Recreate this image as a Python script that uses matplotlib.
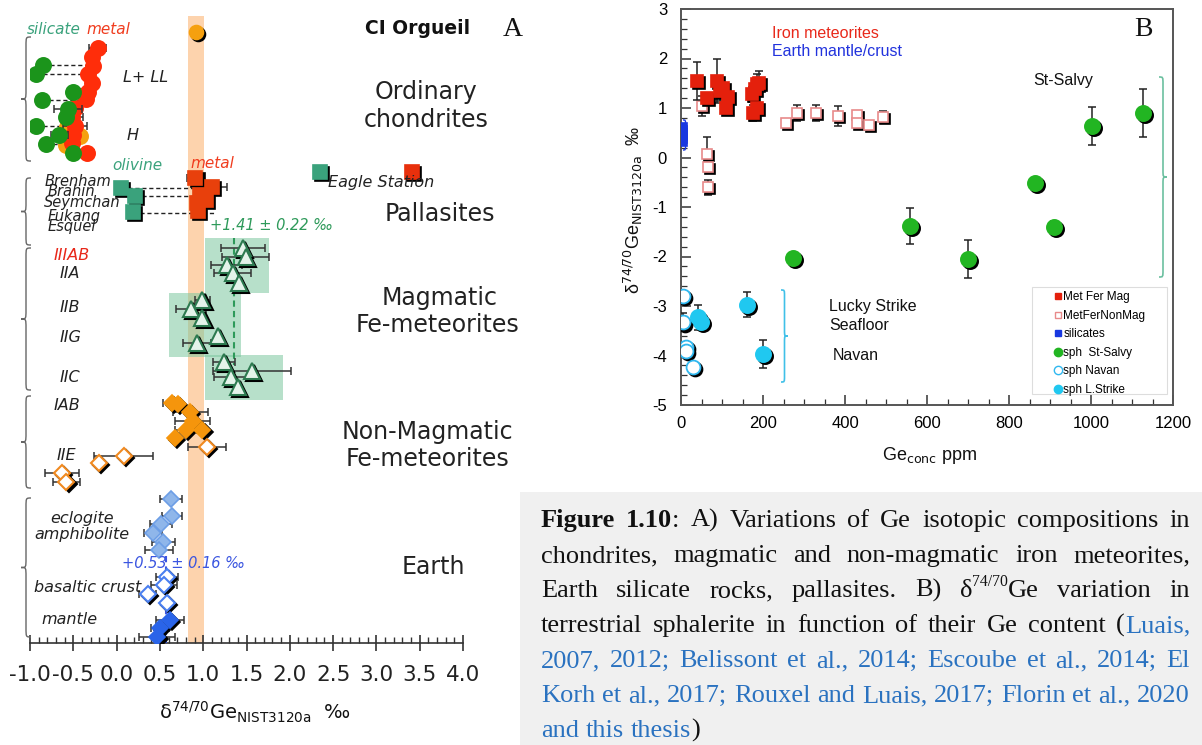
import numpy as np
import matplotlib
matplotlib.use("Agg")
import matplotlib.pyplot as plt
import matplotlib.transforms as mtransforms
from matplotlib.path import Path
from matplotlib.patches import PathPatch, Rectangle
from matplotlib.lines import Line2D
from matplotlib.ticker import MultipleLocator

plt.rcParams['axes.unicode_minus'] = False
plt.rcParams['mathtext.fontset'] = 'dejavusans'
plt.rcParams['font.family'] = ['DejaVu Sans']

# ================= Panel A data (x = delta74/70Ge, row = vertical slot) =================
ci_x = [0.92]; ci_row = [32]

oc_metal_x = [-0.22, -0.28, -0.27, -0.33, -0.28, -0.33, -0.35, -0.48, -0.51, -0.48, -0.50, -0.51, -0.34]
oc_metal_row = [48, 57, 66, 74, 83, 92, 99, 108, 117, 126, 135, 143, 153]
oc_metal_err = [0.10, 0, 0, 0, 0, 0.08, 0, 0, 0.12, 0.14, 0, 0, 0.08]
oc_bulk_x = [-0.57, -0.42, -0.59]
oc_bulk_row = [127, 136, 145]
oc_sil_x = [-0.85, -0.93, -0.50, -0.86, -0.56, -0.58, -0.93, -0.66, -0.82, -0.50]
oc_sil_row = [65, 74, 92, 100, 109, 117, 126, 135, 144, 153]
oc_sil_err = [0, 0, 0, 0, 0.16, 0, 0, 0.1, 0, 0]
oc_tie_row = [65, 74, 92, 100, 126, 144, 153]
oc_tie_from = [-0.85, -0.93, -0.50, -0.86, -0.93, -0.82, -0.50]
oc_tie_to = [-0.28, -0.33, -0.33, -0.35, -0.50, -0.51, -0.34]

pal_ol_x = [0.05, 0.21, 0.19]
pal_ol_row = [188, 196, 212]
pal_met_x = [0.91, 1.10, 0.96, 1.03, 0.93, 0.94]
pal_met_row = [178, 187, 195, 200, 203, 211]
pal_met_err = [0.10, 0.18, 0, 0.05, 0, 0]
pal_tie_row = [188, 196, 213]
pal_tie_from = [0.05, 0.21, 0.19]
pal_tie_to = [0.93, 0.98, 1.14]
eagle_ol_x = [2.35]; eagle_met_x = [3.41]; eagle_row = [172]; eagle_met_err = [0.06]

mag_x = [1.46, 1.49, 1.27, 1.34, 1.41, 0.99, 0.86, 0.99, 1.17, 0.93, 1.24, 1.56, 1.32, 1.40]
mag_row = [248, 257, 265, 273, 283, 300, 309, 318, 336, 343, 362, 371, 377, 387]
mag_err = [0.25, 0.27, 0.18, 0.21, 0, 0.09, 0.17, 0, 0, 0.16, 0.13, 0.45, 0.20, 0]
mag_mean = 1.35
mag_boxes = [(1.02, 1.76, 238, 293), (0.61, 1.44, 293, 357), (1.02, 1.92, 355, 400)]

iab_x = [0.64, 0.71, 0.85, 0.88, 0.80, 0.99, 0.67]
iab_row = [403, 404, 412, 421, 430, 430, 438]
iab_err = [0.10, 0, 0.20, 0.20, 0.13, 0, 0]
iie_x = [1.04, 0.08, -0.20, -0.63, -0.58]
iie_row = [447, 456, 463, 473, 482]
iie_err = [0.22, 0.34, 0, 0.20, 0.16]

ecl_x = [0.63, 0.64, 0.51, 0.42, 0.54, 0.49]
ecl_row = [499, 516, 524, 533, 542, 550]
ecl_err = [0.13, 0.12, 0.13, 0.10, 0.13, 0.16]
bas_x = [0.58, 0.55, 0.36, 0.58]
bas_row = [577, 585, 594, 603]
bas_err = [0.13, 0.15, 0.10, 0]
man_x = [0.62, 0.50, 0.47]
man_row = [620, 628, 637]
man_err = [0.16, 0.10, 0.21]
earth_mean = 0.57

chondrite_band = (0.83, 1.01)

# ================= Panel B data (Ge ppm, delta74/70Ge) =================
mag_ppm = [39, 63, 88, 95, 102, 115, 110, 176, 173, 181, 185, 185, 190]
mag_d = [1.55, 1.20, 1.55, 1.35, 1.40, 1.22, 1.00, 0.90, 1.28, 1.38, 1.48, 1.00, 1.50]
mag_de = [0.38, 0, 0.45, 0.2, 0, 0.12, 0, 0.17, 0.15, 0, 0.2, 0, 0.25]
nonmag_ppm = [51, 63, 66, 66, 256, 283, 329, 383, 429, 429, 458, 493]
nonmag_d = [1.04, 0.07, -0.19, -0.60, 0.70, 0.90, 0.90, 0.84, 0.86, 0.70, 0.66, 0.82]
nonmag_de = [0.21, 0.34, 0, 0.15, 0.05, 0.16, 0.16, 0.2, 0, 0, 0.06, 0.12]
sil_ppm = [4, 4, 4, 4, 4, 4]
sil_d = [0.62, 0.56, 0.50, 0.44, 0.38, 0.32]
salvy_ppm = [273, 558, 700, 863, 910, 1002, 1127]
salvy_d = [-2.03, -1.38, -2.05, -0.52, -1.40, 0.64, 0.90]
salvy_de = [0.10, 0.36, 0.38, 0.10, 0.12, 0.38, 0.48]
navan_ppm = [5, 5, 12, 12, 29]
navan_d = [-2.80, -3.33, -3.83, -3.91, -4.23]
navan_de = [0, 0.18, 0, 0.12, 0]
ls_ppm = [42, 49, 160, 200]
ls_d = [-3.23, -3.32, -2.97, -3.97]
ls_de = [0.25, 0.15, 0.26, 0.29]

legend_labels = ['Met Fer Mag', 'MetFerNonMag', 'silicates', 'sph  St-Salvy', 'sph Navan', 'sph L.Strike']

caption = [
    [("Figure 1.10", "bold"), (": A) Variations of Ge isotopic compositions in", "normal")],
    [("chondrites, magmatic and non-magmatic iron meteorites,", "normal")],
    [("Earth silicate rocks, pallasites. B) δ", "normal"), ("74/70", "sup"), ("Ge variation in", "normal")],
    [("terrestrial sphalerite in function of their Ge content (", "normal"), ("Luais,", "link")],
    [("2007, 2012; Belissont et al., 2014; Escoube et al., 2014; El", "link")],
    [("Korh et al., 2017; Rouxel and Luais, 2017; Florin et al., 2020", "link")],
    [("and this thesis", "link"), (")", "normal")],
]

# ================= figure =================
W, H = 1202, 745
fig = plt.figure(figsize=(W / 100, H / 100), dpi=100)
PIX = mtransforms.Affine2D().scale(1 / W, -1 / H).translate(0, 1) + fig.transFigure


def ptext(x, y, s, **kw):
    kw.setdefault('ha', 'center')
    kw.setdefault('va', 'center')
    return fig.text(x, y, s, transform=PIX, **kw)


def shadow(ax, d=2.2):
    return ax.transData + mtransforms.ScaledTranslation(d / 100, -d / 100, fig.dpi_scale_trans)


def pts(ax, x, y, marker, ms, fc, ec, err=None, horizontal=True, shade=True, z=4, mew=1.2,
        ecol='#333333', cap=3):
    x = np.asarray(x, float); y = np.asarray(y, float)
    if err is not None:
        e = np.asarray(err, float); m = e > 0
        if m.any():
            if horizontal:
                ax.errorbar(x[m], y[m], xerr=e[m], fmt='none', ecolor=ecol, elinewidth=1.1,
                            capsize=cap, capthick=1.1, zorder=z - 0.5)
            else:
                ax.errorbar(x[m], y[m], yerr=e[m], fmt='none', ecolor=ecol, elinewidth=1.1,
                            capsize=cap, capthick=1.1, zorder=z - 0.5)
    if shade:
        ax.plot(x, y, ls='none', marker=marker, ms=ms, mfc='black', mec='black', mew=mew,
                transform=shadow(ax), zorder=z)
    ax.plot(x, y, ls='none', marker=marker, ms=ms, mfc=fc, mec=ec, mew=mew, zorder=z + 0.1)


def brace(x, y0, y1, w, color, lw=1.0, side='left', r=None):
    # x: tip x; w: depth; pixel coords
    s = 1 if side == 'left' else -1
    xt = x; xm = x + s * w * 0.5; xe = x + s * w
    ym = (y0 + y1) / 2
    if r is None:
        r = min(w * 0.9, (y1 - y0) / 6)
    verts = [(xe, y0), (xm, y0), (xm, y0), (xm, y0 + r),
             (xm, ym - r), (xm, ym), (xm, ym), (xt, ym),
             (xm, ym), (xm, ym), (xm, ym + r),
             (xm, y1 - r), (xm, y1), (xm, y1), (xe, y1)]
    codes = [Path.MOVETO, Path.CURVE4, Path.CURVE4, Path.CURVE4,
             Path.LINETO, Path.CURVE4, Path.CURVE4, Path.CURVE4,
             Path.CURVE4, Path.CURVE4, Path.CURVE4,
             Path.LINETO, Path.CURVE4, Path.CURVE4, Path.CURVE4]
    fig.add_artist(PathPatch(Path(verts, codes), fc='none', ec=color, lw=lw, transform=PIX))


# ---------------- Panel A ----------------
axA = fig.add_axes([30 / W, 1 - 643 / H, 433 / W, (643 - 10) / H])
axA.set_xlim(-1.0, 4.0)
axA.set_ylim(643, 10)
for sp in ['left', 'right', 'top']:
    axA.spines[sp].set_visible(False)
axA.spines['bottom'].set_color('#333333')
axA.spines['bottom'].set_linewidth(1.2)
axA.set_yticks([])
axA.xaxis.set_major_locator(MultipleLocator(0.5))
axA.xaxis.set_minor_locator(MultipleLocator(0.1))
axA.tick_params(axis='x', which='major', direction='inout', length=12, width=1.2, color='#333333',
                labelsize=15.5, pad=10, labelcolor='#222222')
axA.tick_params(axis='x', which='minor', direction='in', length=4, width=1.0, color='#333333')
axA.xaxis.set_major_formatter(matplotlib.ticker.FormatStrFormatter('%.1f'))

axA.axvspan(chondrite_band[0], chondrite_band[1], ymin=0, ymax=(643 - 16) / (643 - 10),
            color='#fdd3ad', zorder=1, lw=0)
for (xa, xb, ra, rb) in mag_boxes:
    axA.add_patch(Rectangle((xa, ra), xb - xa, rb - ra, fc='#7cc8a0', alpha=0.55, lw=0, zorder=2))
axA.plot([mag_mean, mag_mean], [238, 365], ls=(0, (3, 2)), color='#2e9a5a', lw=1.5, zorder=3)
axA.plot([earth_mean, earth_mean], [556, 643], ls=(0, (3, 2)), color='#3a55e0', lw=1.5, zorder=3)

# tie lines
for r, a, b in zip(oc_tie_row, oc_tie_from, oc_tie_to):
    axA.plot([a, b], [r, r], ls=(0, (3, 2)), color='#222222', lw=1.0, zorder=3)
for r, a, b in zip(pal_tie_row, pal_tie_from, pal_tie_to):
    axA.plot([a, b], [r, r], ls=(0, (3, 2)), color='#222222', lw=1.0, zorder=3)

pts(axA, ci_x, ci_row, 'o', 10, '#f5a00f', '#f5a00f', z=5)
pts(axA, oc_bulk_x, oc_bulk_row, 'o', 11, '#f5a00f', '#f5a00f', shade=False, z=4)
pts(axA, oc_metal_x, oc_metal_row, 'o', 11, '#ff2d0a', '#ff2d0a', err=oc_metal_err, shade=False, z=5)
pts(axA, oc_sil_x, oc_sil_row, 'o', 11, '#1b941b', '#1b941b', err=oc_sil_err, shade=False, z=6)

pts(axA, pal_ol_x, pal_ol_row, 's', 10, '#3aa27c', '#3aa27c', z=5)
pts(axA, pal_met_x, pal_met_row, 's', 10, '#e8400c', '#e8400c', err=pal_met_err, z=5)
pts(axA, eagle_ol_x, eagle_row, 's', 10, '#3aa27c', '#3aa27c', z=5)
pts(axA, eagle_met_x, eagle_row, 's', 10, '#e8300c', '#e8300c', err=eagle_met_err, z=5)

pts(axA, mag_x, mag_row, '^', 11, '#e4f3ea', '#2d7a50', err=mag_err, z=5, mew=1.5)

pts(axA, iab_x, iab_row, 'D', 8, '#f5950c', '#f5950c', err=iab_err, z=5)
pts(axA, iie_x, iie_row, 'D', 8, 'white', '#f08a20', err=iie_err, z=5, mew=1.5)

pts(axA, ecl_x, ecl_row, 'D', 8, '#8fb6ea', '#6d9ee6', err=ecl_err, shade=False, z=5)
pts(axA, bas_x, bas_row, 'D', 8, 'white', '#4a7ff0', err=bas_err, z=5, mew=1.5)
pts(axA, man_x, man_row, 'D', 8, '#2a64e8', '#2a64e8', err=man_err, z=5)

# braces panel A
for (y0, y1) in [(37, 161), (178, 245), (248, 390), (396, 488), (498, 637)]:
    brace(21, y0, y1, 10, '#666666', lw=1.0)

# texts panel A
dk = '#222222'
ptext(27, 30, 'silicate', style='italic', color='#3aa27c', fontsize=11, ha='left')
ptext(86, 30, 'metal', style='italic', color='#f03c1e', fontsize=11, ha='left')
ptext(123, 77, 'L+ LL', style='italic', color=dk, fontsize=11.5, ha='left')
ptext(127, 135, 'H', style='italic', color=dk, fontsize=11.5, ha='left')
ptext(418, 28, 'CI Orgueil', fontweight='bold', color='#111111', fontsize=13.5)
ptext(513, 30, 'A', family='Liberation Serif', color='#111111', fontsize=20)
ptext(426, 92, 'Ordinary', fontsize=17, color=dk)
ptext(426, 120, 'chondrites', fontsize=17, color=dk)

ptext(112, 165, 'olivine', style='italic', color='#3aa27c', fontsize=11, ha='left')
ptext(190, 163, 'metal', style='italic', color='#f03c1e', fontsize=11, ha='left')
for name, yy, xx in [('Brenham', 181, 45), ('Brahin', 192, 48), ('Seymchan', 203, 44),
                     ('Fukang', 216, 48), ('Esquel', 227, 48)]:
    ptext(xx, yy, name, style='italic', color=dk, fontsize=10.5, ha='left')
ptext(328, 183, 'Eagle Station', style='italic', color=dk, fontsize=11.5, ha='left')
ptext(440, 214, 'Pallasites', fontsize=17, color=dk)
ptext(210, 225, '+1.41 ± 0.22 ‰', style='italic', color='#2e9a5a', fontsize=10.5, ha='left')

ptext(72, 255, 'IIIAB', style='italic', color='#e8281a', fontsize=11.5)
for lab, yy in [('IIA', 274), ('IIB', 307), ('IIG', 338), ('IIC', 377)]:
    ptext(70, yy, lab, style='italic', color=dk, fontsize=11.5)
ptext(440, 298, 'Magmatic', fontsize=17, color=dk)
ptext(438, 325, 'Fe-meteorites', fontsize=17, color=dk)

ptext(67, 406, 'IAB', style='italic', color=dk, fontsize=11.5)
ptext(66, 456, 'IIE', style='italic', color=dk, fontsize=11.5)
ptext(427, 432, 'Non-Magmatic', fontsize=17, color=dk)
ptext(427, 459, 'Fe-meteorites', fontsize=17, color=dk)

ptext(82, 519, 'eclogite', style='italic', color=dk, fontsize=11.5)
ptext(82, 535, 'amphibolite', style='italic', color=dk, fontsize=11.5)
ptext(122, 563, '+0.53 ± 0.16 ‰', style='italic', color='#3a55e0', fontsize=10.5, ha='left')
ptext(88, 588, 'basaltic crust', style='italic', color=dk, fontsize=11.5)
ptext(69, 620, 'mantle', style='italic', color=dk, fontsize=11.5)
ptext(433, 567, 'Earth', fontsize=17, color=dk)

ptext(255, 712, 'δ$^{74/70}$Ge$_{\\mathrm{NIST3120a}}$  ‰', fontsize=14, color='#111111')

# ---------------- Panel B ----------------
axB = fig.add_axes([681 / W, 1 - 405 / H, (1173 - 681) / W, (405 - 9) / H])
axB.set_xlim(0, 1200)
axB.set_ylim(-5, 3)
for sp in axB.spines.values():
    sp.set_color('#555555'); sp.set_linewidth(1.4)
axB.xaxis.set_major_locator(MultipleLocator(200))
axB.xaxis.set_minor_locator(MultipleLocator(50))
axB.yaxis.set_major_locator(MultipleLocator(1))
axB.yaxis.set_minor_locator(MultipleLocator(0.2))
axB.tick_params(which='major', direction='in', length=7, width=1.1, color='#333333',
                labelsize=12, labelfontfamily='Liberation Sans')
axB.tick_params(axis='x', which='major', pad=8)
axB.tick_params(axis='y', which='major', pad=10)
axB.tick_params(which='minor', direction='in', length=4, width=0.9, color='#333333')

red = '#e4200c'; pink = '#e88a8a'; blue = '#1838e0'; green = '#22b522'; cyan_e = '#30b8f0'; cyan = '#20c8f0'
pts(axB, nonmag_ppm, nonmag_d, 's', 7, 'white', pink, err=nonmag_de, horizontal=False, z=5, ecol='#222222')
pts(axB, mag_ppm, mag_d, 's', 8, red, red, err=mag_de, horizontal=False, z=6, ecol='#222222')
pts(axB, sil_ppm, sil_d, 's', 6, blue, blue, shade=False, z=6)
pts(axB, salvy_ppm, salvy_d, 'o', 11, green, green, err=salvy_de, horizontal=False, z=6, ecol='#222222')
pts(axB, navan_ppm, navan_d, 'o', 10, 'white', cyan_e, err=navan_de, horizontal=False, z=6, ecol='#222222', mew=1.3)
pts(axB, ls_ppm, ls_d, 'o', 11, cyan, cyan, err=ls_de, horizontal=False, z=6, ecol='#222222')

handles = [
    Line2D([], [], ls='none', marker='s', ms=5, mfc=red, mec=red),
    Line2D([], [], ls='none', marker='s', ms=5, mfc='white', mec=pink, mew=1),
    Line2D([], [], ls='none', marker='s', ms=5, mfc=blue, mec=blue),
    Line2D([], [], ls='none', marker='o', ms=6, mfc=green, mec=green),
    Line2D([], [], ls='none', marker='o', ms=6, mfc='white', mec=cyan_e, mew=1),
    Line2D([], [], ls='none', marker='o', ms=6, mfc=cyan, mec=cyan),
]
# legend frame (drawn separately so entries can be indented like the original)
axB.add_patch(Rectangle((1032, 287), 1167 - 1032, 394 - 287, fc='white', ec='#dddddd', lw=0.8,
                        transform=PIX, zorder=7))
leg = axB.legend(handles, legend_labels, loc='upper left',
                 bbox_to_anchor=((1052 - 681) / 492, (405 - 289) / 396),
                 prop={'family': 'Liberation Sans', 'size': 8.5}, frameon=False,
                 handlelength=0.6, handletextpad=0.15, labelspacing=0.55, borderpad=0.2,
                 borderaxespad=0)
leg.set_zorder(8)

brace(688, 120, 150, 5, blue, lw=1.0, side='right', r=4)
brace(788, 290, 382, 7, '#40c0e8', lw=1.2, side='right', r=6)
brace(1167, 77, 277, 8, '#6cc0a0', lw=1.2, side='right', r=7)

sans = 'Liberation Sans'
ptext(772, 34, 'Iron meteorites', family=sans, color='#e8281a', fontsize=11.5, ha='left')
ptext(772, 52, 'Earth mantle/crust', family=sans, color='#2233dd', fontsize=11.5, ha='left')
ptext(1143, 30, 'B', family='Liberation Serif', color='#111111', fontsize=20)
ptext(1033, 81, 'St-Salvy', family=sans, color='#111111', fontsize=11.5, ha='left')
ptext(829, 307, 'Lucky Strike', family=sans, color='#111111', fontsize=11.5, ha='left')
ptext(829, 326, 'Seafloor', family=sans, color='#111111', fontsize=11.5, ha='left')
ptext(833, 355, 'Navan', family=sans, color='#111111', fontsize=11.5, ha='left')
ptext(930, 456, 'Ge$_{\\mathrm{conc}}$ ppm', family=sans, color='#111111', fontsize=13)
ptext(633, 210, 'δ$^{74/70}$Ge$_{\\mathrm{NIST3120a}}$  ‰', family=sans, color='#111111',
      fontsize=13, rotation=90)

# ---------------- Caption ----------------
fig.add_artist(Rectangle((520, 492), W - 520, H - 492, fc='#f0f0f0', ec='none', transform=PIX))
renderer = fig.canvas.get_renderer()
serif = 'Liberation Serif'
link = '#2a72c0'


def piece_props(style, fs):
    if style == 'bold':
        return dict(fontsize=fs, fontweight='bold', color='#111111')
    if style == 'link':
        return dict(fontsize=fs, color=link)
    if style == 'sup':
        return dict(fontsize=fs * 0.6, color='#111111')
    return dict(fontsize=fs, color='#111111')


def width_of(s, props):
    t = fig.text(0, 0, s, family=serif, **props)
    w = t.get_window_extent(renderer=renderer).width
    t.remove()
    return w


def tokenize(segs):
    words, cur = [], []
    for text, style in segs:
        parts = text.split(' ')
        for i, p in enumerate(parts):
            if i > 0 and cur:
                words.append(cur); cur = []
            if p:
                cur.append((p, style))
    if cur:
        words.append(cur)
    return words


x0c, x1c = 541, 1190
base_fs = 15.0
w6 = sum(width_of(p, piece_props(s, base_fs)) for wd in tokenize(caption[5]) for p, s in wd)
sp6 = width_of('x x', piece_props('normal', base_fs)) - width_of('xx', piece_props('normal', base_fs))
n6 = len(tokenize(caption[5]))
fs = base_fs * (x1c - x0c) / (w6 + sp6 * (n6 - 1))
space = width_of('x x', piece_props('normal', fs)) - width_of('xx', piece_props('normal', fs))

for i, segs in enumerate(caption):
    words = tokenize(segs)
    wws = [[width_of(p, piece_props(s, fs)) for p, s in wd] for wd in words]
    tot = sum(sum(w) for w in wws)
    last = i == len(caption) - 1
    gap = space if last else (x1c - x0c - tot) / (len(words) - 1)
    x = x0c
    yb = 527 + 35 * i
    for wd, ws in zip(words, wws):
        for (p, s), w in zip(wd, ws):
            props = piece_props(s, fs)
            rise = fs * 0.42 * 100 / 72 if s == 'sup' else 0
            fig.text(x, yb - rise, p, family=serif, ha='left', va='baseline', transform=PIX, **props)
            x += w
        x += gap

fig.savefig('out.png', dpi=100)
